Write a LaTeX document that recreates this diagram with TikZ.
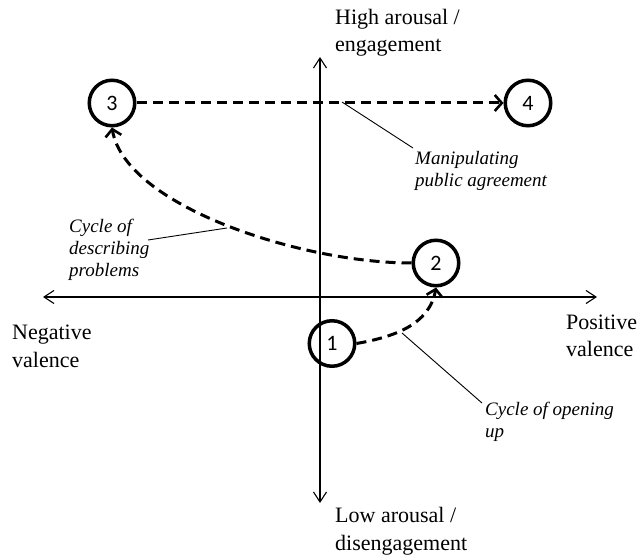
\documentclass[tikz,border=0pt]{standalone}
\usepackage{fontspec}
\setmainfont{Liberation Serif}
\newfontfamily\numfont{Carlito}
\usetikzlibrary{arrows.meta}
\begin{document}
\begin{tikzpicture}[x=1pt,y=-1pt,
  axis/.style={line width=1.1pt,
    {Straight Barb[length=10pt,width=13pt]}-{Straight Barb[length=10pt,width=13pt]}},
  stage/.style={circle,draw,line width=3.5pt,minimum size=45.5pt,inner sep=0pt,
    font=\numfont\fontsize{22}{26}\selectfont},
  flow/.style={line width=3pt,dash pattern=on 10pt off 6pt,
    -{Straight Barb[length=7pt,width=16pt,line width=2.6pt]}},
  leader/.style={line width=0.9pt},
  axislabel/.style={inner sep=0pt,anchor=base west,align=left,
    font=\fontsize{22}{27.5}\selectfont},
  note/.style={inner sep=0pt,anchor=base west,align=left,
    font=\itshape\fontsize{19}{22}\selectfont}
]
\useasboundingbox (0,0) rectangle (638,556);

% axes
\coordinate (ytop) at (320,57);
\coordinate (ybot) at (320,503);
\coordinate (xleft) at (43,297);
\coordinate (xright) at (597,297);
\draw[axis] (ybot) -- (ytop);
\draw[axis] (xleft) -- (xright);

% axis labels (positioned by the baseline of their last line)
\node[axislabel] (high) at (335,52) {High arousal /\\engagement};
\node[axislabel] (low) at (335,550) {Low arousal /\\disengagement};
\node[axislabel] (neg) at (12,367) {Negative\\valence};
\node[axislabel] (pos) at (566,357) {Positive\\valence};

% stages
\node[stage] (n1) at (332,343.5) {1};
\node[stage] (n2) at (436,263) {2};
\node[stage] (n3) at (112,103) {3};
\node[stage] (n4) at (528,103) {4};

% transitions
\draw[flow] (n1.east) to[out=10,in=-100] (n2.south);
\draw[flow] (n2.west) .. controls +(-111,0) and +(13,78) .. (n3.south);
\draw[flow] (n3) -- (n4);

% annotations
\node[note] (manip) at (415,187) {Manipulating\\public agreement};
\node[note] (describe) at (69,277) {Cycle of\\describing\\problems};
\node[note] (opening) at (485,438) {Cycle of opening\\up};

\coordinate (manipA) at (342,102);
\coordinate (manipB) at (413,148);
\coordinate (descA) at (227,228);
\coordinate (descB) at (148,240);
\coordinate (openA) at (402,333);
\coordinate (openB) at (482,403);
\draw[leader] (manipA) -- (manipB);
\draw[leader] (descA) -- (descB);
\draw[leader] (openA) -- (openB);
\end{tikzpicture}
\end{document}
